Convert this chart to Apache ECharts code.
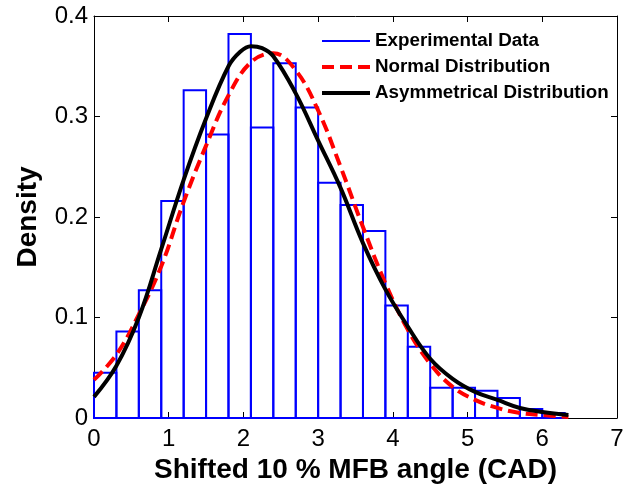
<!DOCTYPE html>
<html>
<head>
<meta charset="utf-8">
<script src="https://cdn.jsdelivr.net/npm/echarts@6/dist/echarts.min.js"></script>
<style>
html,body{margin:0;padding:0;background:#fff;}
#chart{width:634px;height:485px;}
</style>
</head>
<body>
<div id="chart"></div>
<script>
// Histogram bin edges and densities (Experimental Data)
const binEdges = [0, 0.3, 0.6, 0.9, 1.2, 1.5, 1.8, 2.1, 2.4, 2.7, 3.0, 3.3, 3.6, 3.9, 4.2, 4.5, 4.8, 5.1, 5.4, 5.7, 6.0, 6.3];
const binDensity = [0.045, 0.086, 0.127, 0.216, 0.326, 0.282, 0.382, 0.289, 0.353, 0.309, 0.234, 0.212, 0.186, 0.112, 0.071, 0.030, 0.030, 0.027, 0.020, 0.009, 0.005];

// Fitted curves
const normalX = [0, 0.3, 0.6, 0.9, 1.2, 1.5, 1.8, 2.1, 2.4, 2.7, 3.0, 3.3, 3.6, 3.9, 4.2, 4.5, 4.8, 5.1, 5.4, 5.7, 6.0, 6.35];
const normalY = [0.038, 0.063, 0.103, 0.151, 0.215, 0.271, 0.321, 0.354, 0.363, 0.346, 0.306, 0.250, 0.190, 0.134, 0.088, 0.054, 0.031, 0.018, 0.010, 0.005, 0.003, 0.001];
const asymX = [0, 0.3, 0.6, 0.9, 1.2, 1.5, 1.8, 1.95, 2.1, 2.25, 2.4, 2.7, 3.0, 3.3, 3.6, 3.9, 4.2, 4.5, 4.8, 5.1, 5.4, 5.7, 6.0, 6.35];
const asymY = [0.021, 0.052, 0.100, 0.168, 0.237, 0.298, 0.350, 0.364, 0.370, 0.368, 0.360, 0.323, 0.276, 0.229, 0.174, 0.128, 0.091, 0.059, 0.039, 0.026, 0.018, 0.010, 0.006, 0.003];

const xTicks = [0, 1, 2, 3, 4, 5, 6, 7];
const yTicks = [0, 0.1, 0.2, 0.3, 0.4];

const FONT = "'Liberation Sans', Arial, sans-serif";

const histData = binDensity.map((d, i) => [binEdges[i], binEdges[i + 1], d]);
const normalData = normalX.map((x, i) => [x, normalY[i]]);
const asymData = asymX.map((x, i) => [x, asymY[i]]);

const chart = echarts.init(document.getElementById('chart'), null, {renderer: 'canvas'});

const axisCommon = {
  type: 'value',
  axisLine: {show: true, onZero: false, lineStyle: {color: '#000', width: 1}},
  axisTick: {show: true, inside: true, length: 6, lineStyle: {color: '#000', width: 1}},
  splitLine: {show: false}
};

const option = {
  backgroundColor: '#fff',
  animation: false,
  grid: {left: 94, right: 17, top: 16, bottom: 67, containLabel: false, outerBoundsMode: 'none'},
  legend: {
    orient: 'vertical',
    left: 320,
    top: 31,
    itemWidth: 48,
    itemHeight: 20,
    itemGap: 6,
    padding: 0,
    itemStyle: {opacity: 0},
    data: [
      {name: 'Experimental Data', lineStyle: {color: '#0000ff', width: 2, type: 'solid'}},
      {name: 'Normal Distribution', lineStyle: {color: '#ff0000', width: 4, type: [12, 6]}},
      {name: 'Asymmetrical Distribution', lineStyle: {color: '#000', width: 4, type: 'solid'}}
    ],
    textStyle: {fontFamily: FONT, fontWeight: 'bold', fontSize: 18.8, color: '#000', lineHeight: 20}
  },
  xAxis: [
    Object.assign({}, axisCommon, {
      position: 'bottom', min: xTicks[0], max: xTicks[xTicks.length - 1], interval: 1,
      axisLabel: {show: true, fontFamily: FONT, fontSize: 24, color: '#000', margin: 9},
      name: 'Shifted 10 % MFB angle (CAD)', nameLocation: 'middle', nameGap: 34,
      nameTextStyle: {fontFamily: FONT, fontWeight: 'bold', fontSize: 28, color: '#000'}
    }),
    Object.assign({}, axisCommon, {
      position: 'top', min: xTicks[0], max: xTicks[xTicks.length - 1], interval: 1,
      axisLabel: {show: false}
    })
  ],
  yAxis: [
    Object.assign({}, axisCommon, {
      position: 'left', min: yTicks[0], max: yTicks[yTicks.length - 1], interval: 0.1,
      axisLabel: {show: true, fontFamily: FONT, fontSize: 24, color: '#000', margin: 6},
      name: 'Density', nameLocation: 'middle', nameGap: 52, nameRotate: 90,
      nameTextStyle: {fontFamily: FONT, fontWeight: 'bold', fontSize: 28, color: '#000'}
    }),
    Object.assign({}, axisCommon, {
      position: 'right', min: yTicks[0], max: yTicks[yTicks.length - 1], interval: 0.1,
      axisLabel: {show: false}
    })
  ],
  series: [
    {
      name: 'hist',
      type: 'custom',
      xAxisIndex: 0, yAxisIndex: 0,
      data: histData,
      renderItem: function (params, api) {
        const p0 = api.coord([api.value(0), 0]);
        const p1 = api.coord([api.value(1), api.value(2)]);
        return {
          type: 'rect',
          shape: {x: p0[0], y: p1[1], width: p1[0] - p0[0], height: p0[1] - p1[1]},
          style: {fill: 'none', stroke: '#0000ff', lineWidth: 2}
        };
      },
      z: 1
    },
    {
      name: 'Experimental Data',
      type: 'line',
      data: [],
      symbol: 'none',
      itemStyle: {color: '#0000ff'},
      lineStyle: {color: '#0000ff', width: 2}
    },
    {
      name: 'Normal Distribution',
      type: 'line',
      data: normalData,
      smooth: 0.4,
      symbol: 'none',
      itemStyle: {color: '#ff0000'},
      lineStyle: {color: '#ff0000', width: 4, type: [12, 6]},
      z: 3
    },
    {
      name: 'Asymmetrical Distribution',
      type: 'line',
      data: asymData,
      smooth: 0.4,
      symbol: 'none',
      itemStyle: {color: '#000'},
      lineStyle: {color: '#000', width: 4},
      z: 4
    }
  ]
};
chart.setOption(option);
</script>
</body>
</html>
